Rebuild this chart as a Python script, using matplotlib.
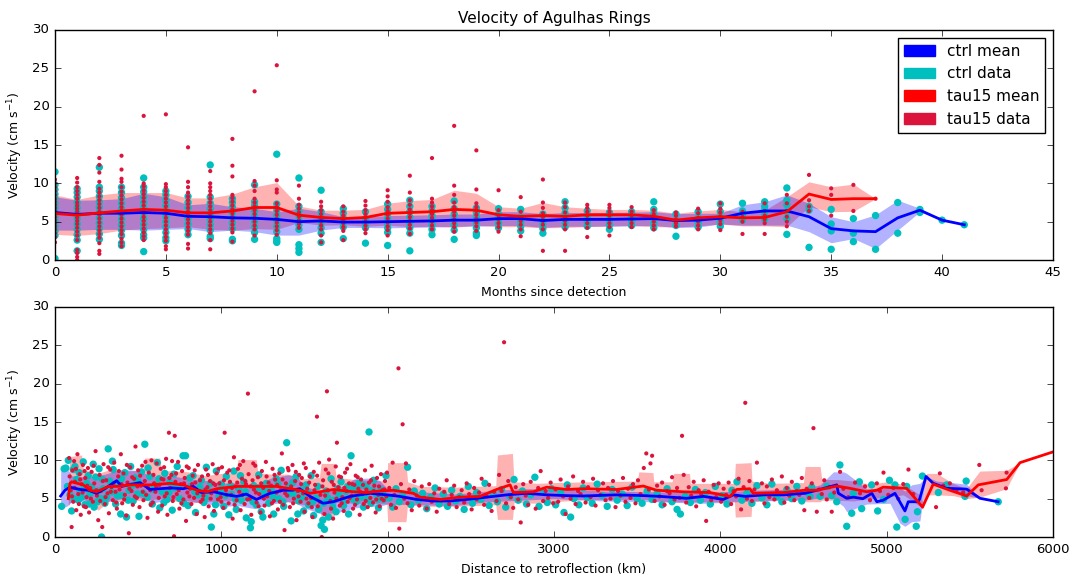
import numpy as np
import matplotlib.pyplot as plt
import matplotlib.patches as mpatches

plt.style.use('classic')
plt.rcParams['mathtext.fontset'] = 'dejavusans'

# ---------------- top panel: months since detection ----------------
ctrl_mean_m = [6.2, 5.95, 6.1, 6.1, 6.2, 6.1, 5.7, 5.65, 5.5, 5.45, 5.3, 5.0, 5.1, 4.95, 4.95,
               5.0, 5.05, 5.1, 5.2, 5.2, 5.4, 5.4, 5.15, 5.3, 5.3, 5.3, 5.35, 5.4, 5.15, 5.2,
               5.45, 6.1, 6.4, 6.4, 5.65, 4.1, 3.8, 3.7, 5.5, 6.5, 5.2, 4.6]
ctrl_hi_m = [8.25, 7.8, 7.85, 8.0, 8.7, 8.25, 7.2, 7.4, 6.95, 6.75, 6.3, 6.75, 6.3, 5.65, 5.65,
             5.8, 5.85, 5.9, 6.0, 6.0, 6.3, 6.3, 6.05, 6.2, 6.2, 6.2, 6.25, 6.3, 6.05, 6.1,
             6.1, 7.2, 7.6, 8.5, 7.4, 5.65, 5.0, 5.9, 7.8, 6.75, 5.2, 4.6]
ctrl_lo_m = [3.9, 3.9, 4.0, 4.0, 3.9, 4.0, 4.1, 3.7, 3.9, 3.7, 3.25, 3.25, 3.9, 4.25, 4.25,
             4.2, 4.25, 4.3, 4.4, 4.4, 4.5, 4.5, 4.25, 4.4, 4.4, 4.4, 4.45, 4.5, 4.25, 4.3,
             4.7, 4.55, 4.55, 4.55, 3.7, 2.25, 2.8, 1.5, 3.9, 6.3, 5.2, 4.6]

tau_mean_m = [6.07, 5.85, 6.15, 6.4, 6.6, 6.5, 6.15, 6.15, 6.4, 6.85, 6.85, 5.85, 5.55, 5.4,
              5.55, 6.1, 6.2, 6.3, 6.6, 6.5, 5.9, 5.7, 5.8, 5.7, 5.9, 5.9, 5.9, 5.7, 5.2,
              5.5, 5.65, 5.5, 5.55, 6.3, 8.6, 7.9, 8.0, 8.0]
tau_hi_m = [8.5, 7.9, 8.5, 8.8, 8.8, 8.8, 8.1, 8.1, 8.6, 9.55, 10.1, 7.05, 6.5, 6.5, 6.6, 7.4,
            7.75, 7.9, 9.1, 8.7, 6.95, 6.75, 7.5, 6.95, 6.75, 6.6, 6.6, 6.5, 6.1, 6.4, 6.6,
            6.3, 6.5, 8.25, 10.2, 9.55, 9.9, 8.0]
tau_lo_m = [3.35, 3.2, 3.45, 3.9, 4.1, 4.2, 4.35, 4.0, 3.9, 4.1, 4.0, 4.9, 4.55, 4.6, 4.4,
            4.55, 4.35, 4.4, 4.25, 4.55, 4.35, 4.35, 4.2, 4.25, 4.35, 4.45, 4.5, 4.35, 4.3,
            4.45, 4.7, 4.45, 4.45, 4.35, 6.95, 6.3, 6.35, 8.0]

# individual ring velocities per month
ctrl_pts_m = [
    [0.2, 3.2, 3.8, 4.4, 5.0, 5.6, 6.2, 6.8, 7.4, 8.0, 8.6, 9.2, 9.8, 11.5],
    [1.2, 2.6, 3.3, 4.0, 4.7, 5.4, 6.1, 6.8, 7.5, 8.2, 8.8, 9.3],
    [2.7, 3.4, 4.1, 4.8, 5.5, 6.2, 6.9, 7.6, 8.3, 9.0, 9.5, 12.1],
    [1.9, 2.2, 3.2, 3.9, 4.6, 5.3, 6.0, 6.7, 7.4, 8.1, 8.8, 9.5],
    [1.1, 2.9, 3.3, 4.0, 4.7, 5.4, 6.1, 6.8, 7.5, 8.2, 8.9, 9.5, 10.7],
    [2.5, 2.9, 3.6, 4.3, 5.0, 5.7, 6.4, 7.1, 7.8, 8.5, 9.0],
    [3.3, 4.0, 4.7, 5.4, 6.1, 6.8, 7.5, 8.3],
    [2.8, 3.1, 3.9, 4.6, 5.3, 6.0, 6.7, 7.4, 8.2, 12.4],
    [2.5, 2.7, 4.1, 4.8, 5.5, 6.2, 6.9, 7.5, 8.0],
    [2.7, 3.6, 4.3, 5.0, 5.7, 6.4, 7.1, 7.6, 9.8],
    [2.3, 2.5, 2.8, 3.7, 4.4, 5.1, 5.8, 6.5, 7.3, 13.8],
    [1.0, 1.5, 2.0, 4.0, 4.6, 5.2, 5.8, 6.4, 7.0, 10.7],
    [2.3, 3.5, 4.2, 4.9, 5.6, 6.3, 9.1],
    [2.8, 4.3, 4.9, 5.5, 6.1, 6.7],
    [2.2, 4.2, 4.8, 5.4, 6.3],
    [1.9, 3.6, 4.2, 4.8, 5.4, 6.0, 6.6, 7.3],
    [1.2, 3.5, 4.2, 4.9, 5.6, 6.3, 7.0, 7.8],
    [3.3, 4.0, 4.6, 5.2, 5.8, 6.4, 7.0],
    [2.7, 3.9, 4.6, 5.3, 6.0, 6.7, 7.7],
    [3.2, 3.5, 4.2, 4.9, 5.6, 6.2, 6.8],
    [4.2, 4.8, 5.4, 6.0, 6.7],
    [3.8, 4.4, 5.0, 5.6, 6.6],
    [3.5, 4.1, 4.7, 5.3, 6.0],
    [4.3, 4.9, 5.5, 6.1, 6.8, 7.6],
    [4.4, 5.0, 5.6, 6.4],
    [4.0, 4.6, 5.2, 5.8, 6.2],
    [4.5, 5.1, 5.7, 6.3],
    [4.2, 4.8, 5.4, 6.0, 6.6, 7.6],
    [3.1, 4.5, 5.2, 6.0],
    [4.3, 4.9, 5.5, 6.3],
    [4.4, 5.0, 5.6, 6.3, 7.3],
    [5.2, 5.8, 6.4, 7.4],
    [5.3, 5.9, 6.5, 7.0, 7.6],
    [3.35, 5.4, 6.3, 7.2, 7.8, 9.4],
    [1.65, 6.5, 7.0],
    [1.4, 3.8, 4.7, 6.6],
    [2.4, 3.5, 5.4],
    [1.4, 5.8],
    [3.5, 7.5],
    [6.2, 6.6],
    [5.2],
    [4.6],
]
tau_pts_m = [
    [2.3, 3.0, 3.5, 4.0, 4.4, 4.8, 5.2, 5.6, 6.0, 6.4, 6.8, 7.2, 7.6, 8.0, 8.5, 9.0, 9.5, 10.0, 10.5],
    [0.0, 0.4, 0.9, 1.3, 2.6, 3.2, 3.7, 4.2, 4.7, 5.1, 5.5, 5.9, 6.3, 6.7, 7.1, 7.5, 8.0, 8.5, 9.0, 9.5, 10.1, 10.7],
    [0.8, 1.2, 2.2, 2.9, 3.4, 3.9, 4.4, 4.9, 5.4, 5.9, 6.3, 6.8, 7.3, 7.8, 8.3, 8.8, 9.3, 10.2, 11.4, 12.4, 13.3],
    [1.8, 2.3, 2.8, 3.4, 3.9, 4.4, 4.9, 5.4, 5.9, 6.4, 6.9, 7.4, 7.9, 8.4, 8.9, 9.5, 10.2, 10.6, 11.8, 13.6],
    [2.6, 3.1, 3.6, 4.1, 4.6, 5.1, 5.6, 6.1, 6.6, 7.1, 7.6, 8.1, 8.6, 9.1, 9.6, 10.0, 18.8],
    [1.4, 1.8, 2.5, 3.0, 3.5, 4.0, 4.5, 5.0, 5.5, 6.0, 6.5, 7.0, 7.5, 8.0, 8.5, 9.0, 9.5, 9.9, 19.0],
    [1.5, 2.1, 3.3, 3.8, 4.3, 4.8, 5.3, 5.8, 6.3, 6.8, 7.3, 7.8, 8.3, 8.8, 9.5, 10.2, 14.7],
    [1.4, 2.6, 3.5, 4.0, 4.5, 5.0, 5.5, 6.0, 6.5, 7.0, 7.5, 8.0, 8.5, 9.0, 9.5, 10.0, 11.6],
    [2.4, 3.6, 4.1, 4.6, 5.1, 5.6, 6.1, 6.6, 7.1, 7.6, 8.1, 8.5, 10.9, 12.3, 15.8],
    [3.2, 4.0, 4.5, 5.0, 5.5, 6.0, 6.5, 7.0, 7.5, 8.0, 9.0, 9.7, 10.3, 22.0],
    [3.3, 3.9, 4.4, 4.9, 5.4, 5.9, 6.4, 6.9, 7.4, 8.8, 9.2, 10.4, 25.4],
    [4.2, 4.7, 5.2, 5.7, 6.2, 6.7, 7.2, 8.0, 9.7],
    [2.3, 3.2, 4.0, 4.5, 5.0, 5.5, 6.0, 6.5, 7.0, 7.6],
    [2.6, 3.8, 4.3, 4.8, 5.3, 5.8, 6.3, 7.0],
    [3.5, 4.0, 4.5, 5.0, 5.5, 6.0, 6.5, 7.1, 7.7],
    [3.2, 3.9, 4.4, 4.9, 5.4, 5.9, 6.4, 6.9, 7.6, 8.3, 9.1],
    [3.4, 4.1, 4.6, 5.1, 5.6, 6.1, 6.6, 7.2, 7.8, 8.8, 11.0],
    [4.0, 4.5, 5.0, 5.5, 6.0, 6.5, 7.0, 7.5, 8.0, 13.3],
    [3.7, 4.3, 4.8, 5.3, 5.8, 6.3, 6.9, 7.5, 8.5, 9.7, 17.5],
    [3.8, 4.4, 4.9, 5.4, 5.9, 6.4, 6.9, 7.4, 9.2, 14.3],
    [3.7, 4.3, 4.8, 5.3, 5.8, 6.5, 9.1],
    [3.1, 4.0, 4.6, 5.1, 5.6, 6.3, 8.2],
    [1.2, 4.0, 4.6, 5.1, 5.6, 6.1, 6.8, 7.5, 10.5],
    [1.2, 4.0, 4.6, 5.1, 5.6, 6.2, 6.9, 7.5],
    [3.0, 4.2, 4.8, 5.3, 5.8, 6.3, 6.8, 7.2],
    [3.2, 4.3, 4.8, 5.3, 5.8, 6.3, 6.8, 7.2],
    [4.3, 4.8, 5.3, 5.8, 6.3, 6.9],
    [4.0, 4.5, 5.0, 5.5, 6.0, 6.5],
    [4.4, 4.8, 5.3, 5.8, 6.2],
    [4.0, 4.5, 5.0, 5.5, 6.1, 6.7],
    [3.9, 4.7, 5.2, 5.7, 6.2, 6.7, 7.4],
    [3.4, 5.0, 5.65, 6.3],
    [3.4, 4.8, 5.3, 5.8, 6.4, 7.4],
    [4.4, 5.0, 5.65, 6.4, 7.4, 8.5],
    [6.4, 7.0, 7.8, 11.1],
    [5.8, 8.5, 9.35],
    [6.4, 9.8],
    [8.0],
]

# ---------------- bottom panel: distance to retroflection ----------------
ctrl_dist = [34, 60, 90, 150, 200, 250, 300, 340, 371, 401, 440, 511, 571, 631, 700, 771, 832,
             880, 954, 1036, 1092, 1150, 1212, 1250, 1293, 1373, 1428, 1470, 1490, 1533, 1613,
             1673, 1774, 1894, 1994, 2074, 2175, 2275, 2375, 2475, 2595, 2716, 2836, 2956,
             3077, 3177, 3377, 3537, 3637, 3797, 3900, 4018, 4078, 4150, 4260, 4380, 4509,
             4580, 4700, 4710, 4760, 4800, 4857, 4911, 4941, 4979, 5050, 5110, 5130, 5190,
             5200, 5237, 5280, 5361, 5481, 5561, 5670]
ctrl_mean_d = [5.35, 6.1, 6.5, 6.2, 6.1, 5.7, 6.3, 6.9, 7.35, 6.6, 6.8, 7.1, 6.2, 6.3, 6.4,
               6.3, 6.6, 5.8, 5.9, 5.5, 5.3, 5.6, 4.9, 5.3, 5.7, 6.1, 6.1, 6.3, 6.0, 5.3, 4.4,
               4.6, 5.3, 5.7, 5.5, 5.3, 4.9, 4.7, 4.7, 4.9, 5.2, 5.5, 5.7, 5.5, 5.4, 5.35,
               5.5, 5.4, 5.3, 5.05, 5.3, 4.9, 5.5, 5.3, 5.5, 5.5, 5.7, 6.1, 6.8, 5.7, 5.05,
               5.2, 5.0, 5.7, 4.6, 4.8, 5.7, 3.4, 4.6, 4.6, 5.05, 7.9, 7.0, 6.35, 6.25, 5.05,
               4.6]
ctrl_band_dist = [34, 70, 100, 200, 300, 400, 480, 600, 700, 800, 900, 1000, 1100, 1200, 1300,
                  1400, 1450, 1500, 1600, 1700, 1800, 1900, 1950, 2000, 2200, 2400, 2600, 2800,
                  3000, 3300, 3600, 3900, 4200, 4500, 4600, 4680, 4740, 4760, 4880, 5020,
                  5080, 5110, 5150, 5200, 5237, 5300, 5480, 5561, 5670]
ctrl_hi_d = [8.6, 9.0, 8.0, 7.8, 8.2, 8.8, 8.7, 7.9, 8.0, 7.6, 7.4, 7.0, 7.1, 6.8, 7.7, 8.1,
             8.0, 6.6, 6.0, 6.3, 7.6, 7.7, 7.4, 6.3, 5.9, 5.6, 6.0, 6.3, 6.3, 6.0, 5.9, 5.8,
             6.1, 6.3, 6.8, 8.5, 8.5, 8.3, 6.3, 6.4, 6.4, 6.0, 6.8, 7.0, 7.9, 7.3, 6.9, 5.05,
             4.6]
ctrl_lo_d = [3.8, 4.0, 4.6, 4.6, 4.5, 5.0, 5.3, 4.5, 4.9, 4.7, 4.4, 4.0, 4.1, 3.7, 4.3, 4.6,
             4.4, 3.8, 3.0, 3.2, 3.8, 4.0, 4.0, 4.3, 4.2, 4.1, 4.6, 4.8, 5.0, 4.7, 4.6, 4.4,
             4.7, 4.8, 5.1, 5.0, 4.0, 3.3, 4.3, 4.4, 1.8, 1.4, 2.0, 2.1, 7.9, 6.7, 5.4, 5.05,
             4.6]

tau_dist = [80, 90, 100, 170, 210, 250, 321, 371, 451, 571, 691, 772, 852, 912, 972, 1092,
            1212, 1333, 1413, 1473, 1533, 1593, 1673, 1794, 1874, 1954, 2034, 2154, 2195,
            2315, 2435, 2555, 2655, 2736, 2756, 2876, 2956, 3077, 3177, 3377, 3537, 3617,
            3777, 3938, 4058, 4098, 4178, 4198, 4379, 4509, 4579, 4700, 4780, 4880, 4941,
            4979, 5120, 5216, 5280, 5380, 5481, 5551, 5722, 5802, 6000]
tau_mean_d = [5.0, 7.0, 7.2, 6.8, 6.1, 5.9, 6.6, 6.6, 6.8, 6.8, 7.0, 6.8, 6.1, 5.9, 6.3, 6.6,
              6.6, 6.6, 6.3, 6.1, 5.7, 5.9, 6.2, 5.9, 5.8, 6.0, 6.1, 5.7, 5.2, 4.9, 5.2, 5.3,
              6.2, 6.8, 5.8, 5.9, 6.5, 6.2, 6.3, 6.2, 6.65, 6.1, 5.9, 5.8, 5.3, 6.2, 6.3, 5.7,
              5.8, 6.1, 6.1, 6.65, 6.35, 5.9, 6.1, 6.5, 6.35, 3.9, 6.9, 6.1, 5.35, 6.8, 7.5,
              9.7, 11.1]
tau_band_dist = [80, 90, 160, 170, 260, 330, 400, 530, 540, 630, 640, 800, 900, 1000, 1090,
                 1100, 1210, 1220, 1300, 1400, 1500, 1590, 1600, 1680, 1690, 1800, 1900, 1995,
                 2000, 2110, 2120, 2200, 2400, 2650, 2660, 2750, 2760, 2900, 3000, 3200,
                 3500, 3510, 3595, 3600, 3710, 3720, 3815, 3820, 4085, 4090, 4185, 4190, 4300,
                 4500, 4510, 4600, 4610, 4700, 4800, 4900, 5000, 5100, 5200, 5216, 5240, 5300,
                 5400, 5480, 5560, 5720, 5802, 6000]
tau_hi_d = [6.5, 10.5, 10.7, 8.8, 8.3, 8.8, 8.6, 8.7, 10.3, 10.3, 8.7, 8.5, 8.0, 8.3, 8.4,
            10.1, 10.1, 8.4, 8.2, 8.2, 7.6, 7.8, 9.6, 9.6, 7.8, 7.5, 7.4, 7.3, 9.7, 9.7, 7.2,
            6.6, 6.5, 6.7, 10.7, 10.9, 7.2, 7.0, 7.1, 7.2, 7.3, 8.5, 8.4, 7.2, 7.2, 8.3, 8.3,
            7.0, 7.0, 9.6, 9.7, 7.3, 7.0, 7.1, 9.2, 9.2, 7.5, 7.5, 7.3, 6.9, 7.2, 6.9, 5.5,
            4.6, 8.3, 8.3, 7.0, 6.3, 8.6, 8.7, 9.7, 11.1]
tau_lo_d = [4.0, 4.5, 4.8, 5.0, 3.5, 4.8, 4.6, 4.8, 4.8, 5.0, 5.0, 4.4, 4.6, 4.7, 4.8, 4.8,
            4.9, 4.9, 4.8, 4.6, 4.2, 4.0, 2.7, 2.7, 4.5, 4.4, 4.4, 4.3, 2.0, 2.0, 4.3, 4.0,
            4.0, 4.2, 2.3, 2.3, 4.5, 4.4, 4.6, 4.9, 4.9, 4.9, 4.9, 4.7, 4.6, 4.6, 4.6, 4.6,
            4.6, 2.6, 2.7, 4.6, 4.8, 4.9, 4.6, 4.6, 4.8, 4.8, 4.7, 5.0, 5.2, 5.5, 4.0, 3.6,
            5.5, 5.5, 5.4, 5.0, 5.2, 6.3, 9.7, 11.1]

ctrl_points = [
    (40, 4.0), (55, 8.9), (65, 9.0), (80, 10.0), (90, 5.5), (100, 3.4), (110, 8.8), (120, 9.2),
    (130, 7.5), (140, 4.8), (150, 6.0), (160, 5.2), (170, 9.8), (180, 4.2), (190, 7.0),
    (200, 8.0), (210, 5.6), (220, 6.5), (235, 3.9), (245, 7.8), (255, 4.6), (265, 8.9),
    (275, 5.0), (280, 0.0), (290, 6.3), (300, 4.4), (320, 11.5), (330, 7.3), (340, 5.9),
    (350, 8.8), (365, 4.3), (380, 6.9), (395, 3.0), (405, 5.4), (420, 8.4), (430, 2.6),
    (445, 6.1), (455, 9.2), (470, 4.7), (480, 7.7), (495, 5.6), (505, 2.7), (520, 8.5),
    (540, 12.1), (555, 5.2), (570, 7.9), (585, 4.3), (600, 6.8), (615, 9.7), (630, 3.8),
    (645, 5.9), (660, 8.3), (675, 4.9), (690, 7.1), (705, 3.5), (720, 6.4), (735, 9.2),
    (750, 5.0), (770, 10.6), (785, 10.6), (800, 4.1), (815, 6.6), (830, 8.0), (845, 3.2),
    (860, 5.5), (880, 7.4), (895, 4.5), (910, 9.1), (925, 6.0), (940, 1.3), (955, 3.0),
    (970, 8.6), (985, 5.3), (1000, 6.9), (1015, 4.0), (1030, 7.9), (1045, 2.9), (1060, 5.6),
    (1075, 8.6), (1090, 3.6), (1105, 6.3), (1120, 4.8), (1135, 7.2), (1150, 2.5), (1165, 5.1),
    (1175, 1.2), (1180, 2.0), (1195, 6.7), (1210, 4.2), (1225, 8.1), (1240, 3.3), (1255, 5.8),
    (1270, 7.0), (1285, 4.4), (1300, 6.2), (1315, 3.0), (1330, 7.6), (1345, 5.0), (1360, 8.7),
    (1375, 4.0), (1393, 12.3), (1405, 6.5), (1420, 2.1), (1435, 5.6), (1450, 7.9), (1465, 4.7),
    (1480, 6.1), (1495, 3.4), (1510, 6.8), (1525, 4.2), (1540, 8.0), (1555, 2.8), (1570, 5.1),
    (1585, 3.6), (1600, 1.5), (1615, 4.4), (1620, 1.0), (1630, 6.0), (1645, 2.6), (1660, 7.6),
    (1675, 4.8), (1690, 3.3), (1705, 5.6), (1720, 7.2), (1735, 4.1), (1750, 5.9), (1765, 3.0),
    (1780, 10.6), (1795, 6.4), (1810, 4.6), (1825, 7.0), (1840, 5.2), (1855, 3.9), (1870, 6.6),
    (1888, 13.7), (1900, 4.4), (1915, 7.4), (1930, 5.6), (1945, 3.8), (1960, 6.2), (1975, 4.9),
    (1990, 8.0), (2010, 5.1), (2030, 3.9), (2050, 6.3), (2070, 4.6), (2090, 5.5), (2120, 9.1),
    (2140, 4.2), (2160, 6.0), (2185, 4.8), (2210, 5.7), (2235, 3.7), (2260, 5.2), (2285, 6.4),
    (2310, 4.3), (2335, 5.6), (2360, 4.0), (2385, 6.1), (2410, 4.7), (2435, 5.3), (2460, 3.6),
    (2485, 6.6), (2510, 4.4), (2535, 5.8), (2560, 4.9), (2585, 7.0), (2610, 4.1), (2635, 5.6),
    (2660, 4.6), (2685, 6.2), (2710, 3.9), (2735, 5.3), (2760, 7.5), (2785, 4.8), (2810, 6.0),
    (2835, 4.3), (2860, 5.5), (2885, 7.8), (2910, 4.0), (2935, 5.9), (2960, 4.5), (2985, 6.3),
    (3010, 4.2), (3040, 5.8), (3060, 3.2), (3080, 6.8), (3100, 2.6), (3120, 5.0), (3150, 4.2),
    (3175, 6.4), (3200, 5.1), (3230, 4.4), (3260, 6.9), (3290, 5.4), (3320, 4.0), (3350, 6.2),
    (3380, 4.8), (3410, 5.6), (3440, 4.1), (3470, 6.5), (3500, 5.0), (3530, 4.4), (3560, 6.0),
    (3590, 4.9), (3620, 5.7), (3650, 4.2), (3680, 6.3), (3710, 4.6), (3740, 3.6), (3760, 3.0),
    (3790, 5.3), (3820, 4.5), (3850, 6.2), (3880, 4.8), (3910, 5.8), (3940, 4.3), (3970, 6.6),
    (4010, 5.4), (4040, 4.3), (4070, 6.1), (4100, 7.2), (4130, 4.8), (4160, 5.7), (4190, 4.4),
    (4220, 6.7), (4250, 5.1), (4280, 4.2), (4310, 6.9), (4340, 5.3), (4370, 4.6), (4400, 6.2),
    (4430, 5.0), (4460, 6.6), (4490, 4.7), (4520, 5.9), (4539, 5.3), (4550, 6.5), (4600, 5.3),
    (4640, 6.6), (4670, 5.4), (4700, 4.6), (4719, 9.4), (4760, 1.4), (4790, 3.1), (4800, 5.7),
    (4836, 7.2), (4850, 3.7), (4910, 6.8), (4946, 3.4), (4981, 4.9), (5017, 7.4), (5050, 6.8),
    (5061, 1.3), (5111, 2.3), (5121, 6.6), (5178, 1.4), (5185, 3.3), (5215, 7.95), (5311, 5.8),
    (5361, 6.8), (5471, 5.3), (5478, 7.3), (5671, 4.6),
    (75, 6.6), (115, 5.0), (145, 8.4), (175, 6.3), (205, 4.3), (230, 9.5), (260, 6.0), (285, 7.5),
    (310, 5.2), (345, 9.9), (375, 5.4), (400, 7.6), (440, 4.8), (465, 6.7), (500, 7.2), (530, 5.7),
    (560, 9.0), (590, 6.2), (625, 7.6), (655, 4.5), (685, 5.8), (715, 8.2), (745, 6.5), (775, 4.4),
    (810, 7.7), (840, 5.9), (870, 6.5), (905, 5.1), (935, 7.0), (965, 4.2), (995, 6.1),
    (1025, 5.4), (1055, 6.7), (1085, 4.9), (1115, 8.0), (1145, 5.9), (1190, 4.6), (1220, 6.4),
    (1250, 2.6), (1280, 6.6), (1310, 5.3), (1340, 6.9), (1370, 4.6), (1400, 5.6), (1430, 7.1),
    (1460, 3.0), (1490, 5.2), (1520, 5.8), (1550, 4.6), (1580, 6.6), (1610, 2.2), (1640, 5.1),
    (1670, 3.9), (1700, 6.3), (1730, 4.9), (1760, 6.6), (1790, 5.0), (1820, 5.8), (1850, 6.8),
    (1880, 5.0), (1910, 6.1), (1940, 4.9), (1970, 5.6),
]
tau_points = [
    (85, 10.3), (95, 6.1), (100, 1.3), (105, 8.7), (110, 4.6), (115, 9.9), (120, 7.2), (128, 3.5),
    (135, 10.8), (140, 5.6), (148, 8.2), (155, 2.9), (160, 6.9), (168, 9.4), (175, 4.0),
    (182, 7.7), (190, 5.2), (198, 9.0), (205, 3.2), (212, 6.4), (220, 8.5), (228, 4.6),
    (236, 7.0), (244, 11.2), (252, 5.4), (260, 2.2), (268, 8.1), (276, 6.0), (284, 1.3),
    (292, 9.5), (300, 4.3), (308, 7.4), (316, 5.7), (324, 3.1), (332, 8.8), (340, 6.5),
    (348, 4.8), (356, 9.7), (364, 5.9), (372, 3.7), (380, 7.9), (388, 6.2), (396, 10.8),
    (404, 4.4), (412, 8.3), (420, 5.5), (428, 2.8), (436, 7.1), (444, 0.5), (452, 9.1),
    (460, 6.0), (468, 4.2), (476, 7.6), (484, 11.8), (492, 5.1), (500, 8.7), (508, 3.9),
    (516, 6.7), (524, 9.3), (532, 4.8), (540, 7.3), (548, 5.5), (556, 2.5), (564, 8.4),
    (572, 6.1), (580, 10.0), (588, 4.5), (596, 7.0), (604, 5.9), (612, 9.6), (620, 3.3),
    (628, 6.8), (636, 8.9), (644, 4.1), (652, 7.5), (660, 5.3), (668, 10.2), (676, 2.9),
    (685, 13.6), (692, 6.4), (700, 8.1), (708, 4.7), (716, 0.1), (720, 13.2), (724, 7.2),
    (732, 5.6), (740, 9.8), (748, 3.7), (756, 6.9), (764, 8.6), (772, 4.9), (780, 7.7),
    (788, 2.1), (796, 5.8), (804, 9.0), (812, 6.3), (820, 4.3), (828, 8.0), (836, 5.1),
    (844, 7.1), (852, 3.0), (860, 9.4), (868, 6.0), (876, 4.6), (884, 7.9), (892, 5.4),
    (900, 2.6), (908, 8.8), (916, 6.5), (924, 4.0), (932, 7.3), (940, 5.7), (948, 9.5),
    (956, 3.4), (964, 6.8), (972, 8.3), (980, 4.9), (988, 7.0), (996, 5.2), (1004, 9.1),
    (1012, 3.8), (1020, 13.6), (1028, 6.1), (1036, 8.4), (1044, 4.4), (1052, 7.2), (1060, 5.5),
    (1068, 2.4), (1076, 10.4), (1084, 6.6), (1092, 4.8), (1100, 8.9), (1108, 5.9), (1116, 3.5),
    (1124, 7.6), (1132, 9.9), (1140, 4.3), (1148, 6.9), (1160, 18.7), (1164, 8.2), (1172, 5.0),
    (1180, 2.9), (1188, 7.4), (1196, 6.2), (1204, 9.3), (1212, 4.5), (1220, 7.8), (1228, 5.6),
    (1236, 3.2), (1244, 8.6), (1252, 6.4), (1260, 4.1), (1268, 9.8), (1276, 5.3), (1284, 7.1),
    (1292, 2.7), (1300, 6.7), (1308, 8.9), (1316, 4.7), (1324, 7.5), (1332, 5.8), (1340, 3.6),
    (1348, 8.3), (1356, 6.1), (1364, 10.9), (1372, 4.2), (1380, 0.9), (1388, 7.0), (1396, 5.4),
    (1404, 8.7), (1412, 3.9), (1420, 6.6), (1428, 9.4), (1436, 5.0), (1444, 7.3), (1452, 2.2),
    (1460, 6.0), (1468, 8.1), (1476, 4.6), (1484, 7.7), (1492, 5.7), (1500, 3.3), (1508, 9.0),
    (1516, 6.3), (1524, 4.4), (1532, 7.9), (1540, 5.1), (1548, 2.6), (1556, 8.5), (1564, 6.8),
    (1575, 15.7), (1580, 4.0), (1588, 9.7), (1596, 5.5), (1604, 0.0), (1612, 7.4), (1620, 3.0),
    (1628, 8.8), (1635, 19.0), (1640, 6.1), (1648, 10.1), (1656, 4.7), (1664, 7.2), (1672, 2.4),
    (1680, 5.8), (1688, 9.2), (1695, 12.3), (1704, 6.5), (1712, 4.1), (1720, 7.8), (1728, 5.2),
    (1736, 3.4), (1744, 8.4), (1752, 6.0), (1760, 4.6), (1768, 7.0), (1776, 9.5), (1784, 5.4),
    (1792, 3.7), (1800, 6.8), (1808, 8.0), (1816, 4.9), (1824, 6.3), (1832, 2.9), (1840, 7.5),
    (1848, 5.6), (1856, 4.3), (1864, 8.7), (1872, 6.2), (1880, 3.9), (1888, 7.1), (1896, 5.1),
    (1904, 9.3), (1912, 4.5), (1920, 6.7), (1928, 3.2), (1936, 7.7), (1944, 5.5), (1952, 4.0),
    (1960, 8.2), (1968, 6.1), (1976, 4.8), (1984, 7.3), (1992, 5.3), (2010, 6.4), (2020, 4.2),
    (2030, 9.7), (2040, 5.5), (2050, 3.8), (2065, 22.0), (2070, 1.1), (2080, 6.9), (2090, 14.7),
    (2100, 5.0), (2110, 9.6), (2120, 4.4), (2130, 6.2), (2145, 3.5), (2160, 7.3), (2175, 5.4),
    (2190, 4.1), (2205, 6.6), (2220, 5.1), (2235, 3.7), (2250, 6.9), (2265, 4.6), (2280, 5.7),
    (2295, 3.3), (2310, 6.3), (2325, 4.8), (2340, 5.9), (2355, 7.4), (2370, 4.3), (2385, 5.5),
    (2400, 6.7), (2415, 3.9), (2430, 5.2), (2445, 6.1), (2460, 4.5), (2475, 7.0), (2490, 5.6),
    (2505, 3.6), (2520, 6.4), (2535, 4.9), (2550, 5.8), (2565, 7.6), (2580, 4.2), (2595, 5.3),
    (2610, 6.8), (2625, 3.4), (2640, 5.9), (2655, 4.7), (2670, 8.1), (2685, 6.0), (2700, 25.4),
    (2712, 4.4), (2725, 7.3), (2740, 5.2), (2755, 3.8), (2770, 6.5), (2785, 4.9), (2800, 1.9),
    (2815, 6.9), (2830, 5.4), (2845, 4.2), (2860, 7.2), (2875, 5.7), (2890, 3.7), (2905, 6.4),
    (2920, 8.6), (2935, 4.7), (2950, 6.0), (2965, 5.1), (2980, 7.1), (2995, 4.4), (3010, 6.2),
    (3025, 4.6), (3040, 7.5), (3055, 5.3), (3070, 3.0), (3085, 6.6), (3100, 5.0), (3115, 7.9),
    (3130, 4.3), (3145, 6.0), (3160, 5.6), (3175, 7.2), (3190, 4.5), (3205, 6.5), (3220, 5.2),
    (3235, 7.6), (3250, 4.1), (3265, 6.1), (3280, 5.5), (3295, 7.0), (3310, 4.8), (3325, 6.4),
    (3340, 5.0), (3355, 7.3), (3370, 3.9), (3385, 6.0), (3400, 5.4), (3415, 7.7), (3430, 4.6),
    (3445, 6.3), (3460, 5.1), (3475, 6.9), (3490, 4.4), (3505, 7.4), (3520, 5.6), (3540, 9.0),
    (3555, 10.9), (3570, 6.2), (3580, 9.6), (3590, 10.6), (3605, 4.7), (3620, 6.7), (3635, 5.3),
    (3650, 7.1), (3665, 4.2), (3680, 6.0), (3695, 5.7), (3710, 7.8), (3725, 4.9), (3740, 6.4),
    (3755, 5.1), (3770, 13.2), (3780, 8.1), (3795, 4.5), (3810, 6.5), (3825, 5.4), (3840, 7.2),
    (3855, 4.0), (3870, 6.1), (3885, 5.6), (3900, 7.4), (3915, 2.1), (3930, 5.9), (3945, 4.8),
    (3960, 6.8), (3975, 5.2), (3990, 7.0), (4005, 4.6), (4020, 6.3), (4035, 5.5), (4050, 7.1),
    (4065, 4.3), (4080, 6.0), (4095, 5.3), (4110, 7.6), (4125, 3.6), (4140, 6.5), (4150, 17.5),
    (4160, 5.0), (4175, 7.3), (4190, 4.7), (4205, 6.2), (4220, 9.7), (4235, 5.6), (4250, 7.0),
    (4265, 4.4), (4280, 6.6), (4295, 5.2), (4310, 7.5), (4325, 4.9), (4340, 6.1), (4355, 5.7),
    (4370, 7.9), (4385, 4.5), (4400, 6.4), (4415, 5.4), (4430, 7.2), (4445, 4.8), (4460, 6.0),
    (4475, 5.5), (4490, 7.7), (4505, 3.5), (4520, 6.3), (4535, 5.1), (4550, 7.0), (4560, 14.2),
    (4580, 3.3), (4595, 6.2), (4610, 5.6), (4625, 7.4), (4640, 4.9), (4655, 6.5), (4670, 3.3),
    (4685, 5.8), (4720, 8.5), (4740, 6.3), (4770, 5.2), (4810, 7.1), (4840, 5.7), (4870, 6.6),
    (4900, 4.8), (4941, 7.0), (4960, 6.0), (4981, 8.4), (5010, 5.5), (5040, 6.4), (5070, 5.0),
    (5100, 6.9), (5131, 8.8), (5160, 5.6), (5297, 3.9), (5320, 8.3), (5340, 6.7), (5380, 7.0),
    (5420, 6.1), (5460, 5.8), (5557, 9.4), (5571, 6.1), (5717, 6.35), (5721, 8.4),
    (88, 7.9), (102, 5.3), (118, 6.4), (126, 8.9), (144, 4.3), (152, 7.5), (166, 5.8), (178, 8.6),
    (186, 3.9), (194, 6.7), (216, 5.0), (232, 9.3), (248, 6.1), (272, 4.7), (288, 7.3), (304, 5.2),
    (320, 9.1), (336, 5.9), (352, 7.0), (368, 4.5), (384, 8.6), (400, 6.9), (416, 4.9), (432, 9.4),
    (448, 6.3), (464, 7.8), (480, 5.3), (496, 6.6), (512, 8.0), (528, 5.9), (544, 9.8), (560, 6.4),
    (576, 4.2), (592, 8.1), (608, 6.6), (624, 5.1), (640, 7.6), (656, 9.1), (672, 5.7), (688, 7.7),
    (704, 9.9), (712, 5.2), (728, 8.3), (744, 6.1), (760, 4.4), (776, 7.0), (792, 9.2), (808, 5.3),
    (824, 6.9), (840, 8.7), (856, 5.7), (872, 7.4), (888, 4.9), (904, 6.2), (920, 8.1), (936, 5.0),
    (952, 7.0), (968, 6.0), (984, 8.9), (1000, 4.6), (1016, 7.4), (1032, 5.5), (1048, 8.7),
    (1064, 6.4), (1080, 4.2), (1096, 7.1), (1112, 9.4), (1128, 5.5), (1144, 7.3), (1156, 4.9),
    (1176, 6.6), (1192, 9.6), (1208, 5.8), (1224, 4.0), (1240, 7.0), (1256, 5.0), (1272, 7.9),
    (1288, 6.0), (1304, 4.4), (1320, 8.1), (1336, 6.8), (1352, 4.6), (1368, 7.5), (1384, 5.7),
    (1400, 9.0), (1416, 6.3), (1432, 4.4), (1448, 8.5), (1464, 5.3), (1480, 6.9), (1496, 9.6),
    (1512, 5.0), (1528, 7.1), (1544, 3.9), (1560, 6.1), (1576, 8.0), (1592, 4.6), (1608, 6.6),
    (1624, 5.4), (1644, 8.3), (1660, 3.7), (1676, 6.8), (1692, 5.0), (1708, 7.9), (1724, 4.4),
    (1740, 6.4), (1756, 8.9), (1772, 5.1), (1788, 6.9), (1804, 4.2), (1820, 7.8), (1836, 5.9),
    (1852, 6.8), (1868, 4.7), (1884, 5.8), (1900, 7.4), (1916, 6.0), (1932, 4.9), (1948, 6.6),
    (1964, 5.0), (1980, 6.2), (1996, 8.4),
]

fig = plt.figure(figsize=(10.76, 5.79), dpi=100, facecolor='white')
ax1 = fig.add_axes([0.0511, 0.5509, 0.9275, 0.3973])
ax2 = fig.add_axes([0.0511, 0.0725, 0.9275, 0.3973])

cyan_size = 28
red_size = 9

# top panel
m_ctrl = np.arange(len(ctrl_mean_m))
m_tau = np.arange(len(tau_mean_m))
ax1.fill_between(m_tau, tau_lo_m, tau_hi_m, color='r', alpha=0.3, linewidth=0)
ax1.fill_between(m_ctrl, ctrl_lo_m, ctrl_hi_m, color='b', alpha=0.3, linewidth=0)
cx = [m for m, vals in enumerate(ctrl_pts_m) for v in vals]
cy = [v for vals in ctrl_pts_m for v in vals]
tx = [m for m, vals in enumerate(tau_pts_m) for v in vals]
ty = [v for vals in tau_pts_m for v in vals]
ax1.scatter(cx, cy, s=cyan_size, c='c', edgecolors='none')
ax1.scatter(tx, ty, s=red_size, c='crimson', edgecolors='none')
ax1.plot(m_ctrl, ctrl_mean_m, color='b', linewidth=2)
ax1.plot(m_tau, tau_mean_m, color='r', linewidth=2)
ax1.set_xlim(0, 45)
ax1.set_ylim(0, 30)
ax1.set_xlabel('Months since detection', fontsize=9)
ax1.set_ylabel('Velocity (cm s$^{-1}$)', fontsize=9)
ax1.set_title('Velocity of Agulhas Rings', fontsize=11)
ax1.tick_params(labelsize=9.5)

handles = [mpatches.Patch(color='b', label='ctrl mean'),
           mpatches.Patch(color='c', label='ctrl data'),
           mpatches.Patch(color='r', label='tau15 mean'),
           mpatches.Patch(color='crimson', label='tau15 data')]
ax1.legend(handles=handles, loc='upper right', fontsize=11)

# bottom panel
ax2.fill_between(tau_band_dist, tau_lo_d, tau_hi_d, color='r', alpha=0.3, linewidth=0)
ax2.fill_between(ctrl_band_dist, ctrl_lo_d, ctrl_hi_d, color='b', alpha=0.3, linewidth=0)
cd, cv = zip(*ctrl_points)
td, tv = zip(*tau_points)
ax2.scatter(cd, cv, s=cyan_size, c='c', edgecolors='none')
ax2.scatter(td, tv, s=red_size, c='crimson', edgecolors='none')
ax2.plot(ctrl_dist, ctrl_mean_d, color='b', linewidth=2)
ax2.plot(tau_dist, tau_mean_d, color='r', linewidth=2)
ax2.set_xlim(0, 6000)
ax2.set_ylim(0, 30)
ax2.set_xlabel('Distance to retroflection (km)', fontsize=9)
ax2.set_ylabel('Velocity (cm s$^{-1}$)', fontsize=9)
ax2.tick_params(labelsize=9.5)

fig.savefig('out.png', dpi=100, facecolor='white')
